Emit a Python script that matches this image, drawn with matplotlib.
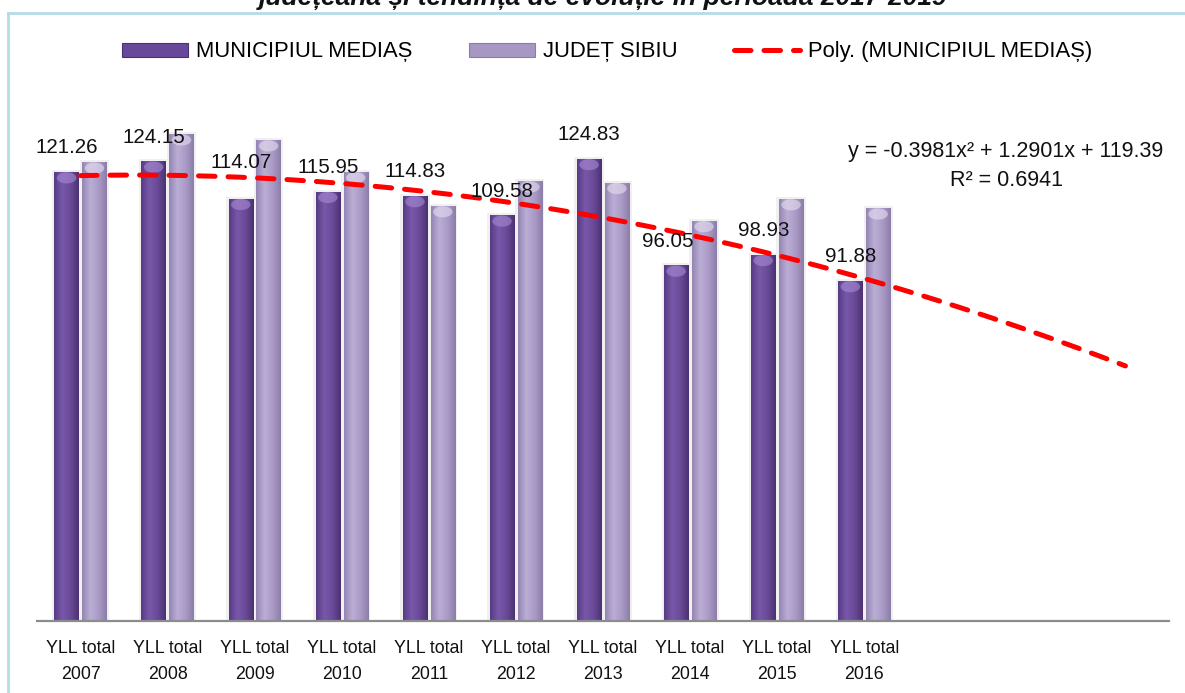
import numpy as np
import matplotlib
matplotlib.use("Agg")
import matplotlib.pyplot as plt
from matplotlib.patches import Ellipse, Patch
from matplotlib.lines import Line2D
from matplotlib.colors import LinearSegmentedColormap

# ---------------- data ----------------
categories = ["YLL total\n2007", "YLL total\n2008", "YLL total\n2009", "YLL total\n2010",
              "YLL total\n2011", "YLL total\n2012", "YLL total\n2013", "YLL total\n2014",
              "YLL total\n2015", "YLL total\n2016"]
medias = [121.26, 124.15, 114.07, 115.95, 114.83, 109.58, 124.83, 96.05, 98.93, 91.88]
sibiu = [123.9, 131.5, 129.9, 121.3, 112.1, 118.8, 118.4, 108.1, 114.0, 111.5]
trend_coef = [-0.3981, 1.2901, 119.39]   # y = a x^2 + b x + c (x = 1..)
trend_r2 = 0.6941
forward_periods = 3
series_names = ["MUNICIPIUL MEDIAȘ", "JUDEȚ SIBIU", "Poly. (MUNICIPIUL MEDIAȘ)"]
title = "județeană și tendința de evoluție în perioada 2017-2019"

# ---------------- style ----------------
FONT = ["Liberation Sans", "DejaVu Sans"]
plt.rcParams["font.family"] = FONT

W, H = 1185, 693
fig = plt.figure(figsize=(W / 100, H / 100), dpi=100)
ax = fig.add_axes([37 / W, 1 - 621 / H, (1169 - 37) / W, 518.4 / H])

n = len(categories)
x = np.arange(1, n + 1)
bw = 0.28
off = 0.16

med_stops = ["#573b85", "#7858a8", "#6a4a99", "#4a3171"]
sib_stops = ["#9384b1", "#bbaed5", "#aa9bc7", "#8b7da8"]
med_cap = "#a88bd6"
sib_cap = "#e6def2"


def gradient_bars(bars, stops, cap_color):
    cmap = LinearSegmentedColormap.from_list("g", stops)
    grad = np.linspace(0, 1, 128).reshape(1, -1)
    for b in bars:
        x0, w, h = b.get_x(), b.get_width(), b.get_height()
        # soft shadow
        ax.bar(x0 + w / 2, h + 0.5, width=w * 1.2, color="#f0f0f0", zorder=1.5, linewidth=0)
        im = ax.imshow(grad, cmap=cmap, extent=[x0, x0 + w, 0, h], aspect="auto",
                       zorder=2, interpolation="bicubic")
        im.set_clip_path(b)
        cap = Ellipse((x0 + w / 2, h - 1.6), w * 0.8, 3.0, facecolor=cap_color,
                      edgecolor="none", alpha=0.6, zorder=3)
        cap.set_clip_path(b)
        ax.add_patch(cap)


b1 = ax.bar(x - off, medias, width=bw, color="#684899", linewidth=0, zorder=2)
b2 = ax.bar(x + off, sibiu, width=bw, color="#a697c3", linewidth=0, zorder=2)
gradient_bars(b1, med_stops, med_cap)
gradient_bars(b2, sib_stops, sib_cap)

# trend line (polynomial order 2, forecast forward)
xt = np.linspace(1, n + forward_periods, 200)
yt = np.polyval(trend_coef, xt)
ax.plot(xt, yt, color="#ff0000", lw=3.6, dashes=(3.3, 2.6), dash_capstyle="round",
        zorder=5)

# data labels for MUNICIPIUL MEDIAȘ
nudges = {2: (0, 12), 7: (-8, 0)}
for i, v in enumerate(medias):
    dx, dy = nudges.get(i, (0, 0))
    ax.annotate(f"{v:.2f}", (x[i] - off, v), xytext=(dx, 24 + dy),
                textcoords="offset pixels", ha="center", va="center",
                fontsize=14.8, color="#111111", zorder=6)

ax.set_xlim(0.5, n + forward_periods + 0.5)
ax.set_ylim(0, 140)
ax.set_xticks(x)
ax.set_xticklabels(categories, fontsize=12.8, color="#111111", linespacing=1.65)
ax.tick_params(axis="x", length=0, pad=14)
ax.set_yticks([])
for s in ["top", "left", "right"]:
    ax.spines[s].set_visible(False)
ax.spines["bottom"].set_color("#8c8c8c")
ax.spines["bottom"].set_linewidth(1.6)
ax.spines["bottom"].set_zorder(4)

# trend equation
a, b, c = trend_coef
eq = f"y = {a:.4f}x² + {b:.4f}x + {c:.2f}\nR² = {trend_r2:.4f}"
fig.text(1006 / W, 1 - 166 / H, eq, ha="center", va="center", multialignment="center",
         fontsize=15.5, linespacing=1.5, color="#111111")

# legend
handles = [Patch(facecolor="#684899", edgecolor="#4a3171", linewidth=0.8),
           Patch(facecolor="#a697c3", edgecolor="#8b7da8", linewidth=0.8),
           Line2D([0], [0], color="#ff0000", lw=3.6, dashes=(3.3, 2.6), dash_capstyle="round")]
fig.legend(handles, series_names, loc="center", bbox_to_anchor=(607 / W, 1 - 52 / H),
           ncol=3, frameon=False, fontsize=15.8, handlelength=3.0, handleheight=0.6,
           handletextpad=0.35, columnspacing=2.6)

# title (cut off at the top of the picture, as in the source)
fig.text(603 / W, 1 - 5 / H, title, ha="center", va="baseline", fontsize=19,
         fontweight="bold", fontstyle="italic", color="#111111")

# frame
fig.add_artist(Line2D([8 / W, 1], [1 - 13 / H, 1 - 13 / H], transform=fig.transFigure,
                      color="#b4dce8", lw=2))
fig.add_artist(Line2D([8 / W, 8 / W], [0, 1 - 13 / H], transform=fig.transFigure,
                      color="#b4dce8", lw=2))

fig.savefig("out.png", dpi=100)
